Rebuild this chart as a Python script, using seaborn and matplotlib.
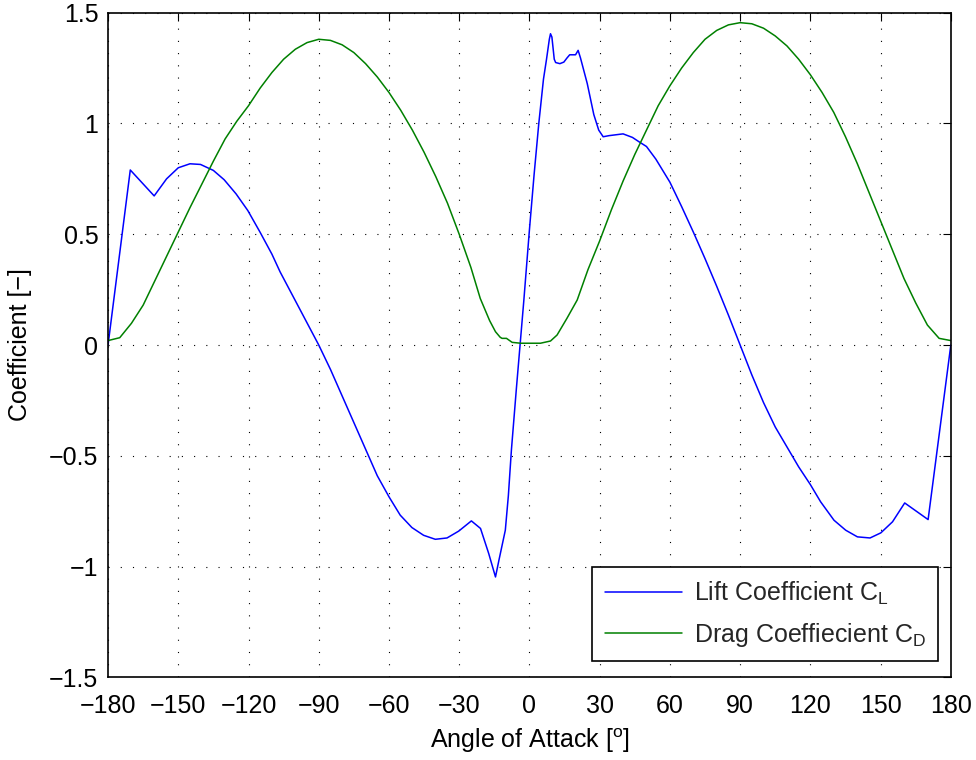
import matplotlib
matplotlib.use("Agg")
import matplotlib.pyplot as plt
import seaborn as sns
import pandas as pd

# Lift coefficient vs angle of attack (degrees)
lift_aoa = [-180, -170.5, -160.3, -155, -150, -145, -140.5, -135, -130.4, -125.3,
            -120.3, -115, -110, -106.5, -100, -95, -90, -85, -80, -75, -70,
            -65, -60, -55.2, -50.2, -45.2, -40.2, -35.2, -30.2, -24.8, -20.9,
            -17.4, -14.5, -13, -10.3, -9, -7.7, -5.6, -4, -2.4, 0, 2, 4, 6,
            7.3, 8.5, 9, 9.6, 10.6, 11.2, 13, 14.7, 16, 17.2, 19.7, 20.8, 21.8,
            24.7, 27.5, 29.6, 31.5, 34, 40, 44, 47, 50, 54, 60, 65, 70, 75, 80,
            85, 90, 95, 100, 105, 110, 115, 120, 124.4, 130.1, 135.1, 140.1,
            145.5, 150.1, 155.1, 160.3, 170.3, 180]
lift_cl = [0.0, 0.79, 0.673, 0.75, 0.80, 0.818, 0.815, 0.788, 0.746, 0.682,
           0.607, 0.508, 0.41, 0.33, 0.20, 0.10, 0.0, -0.11, -0.23, -0.35, -0.47,
           -0.59, -0.685, -0.768, -0.824, -0.859, -0.877, -0.871, -0.84, -0.794, -0.828,
           -0.941, -1.047, -0.97, -0.836, -0.68, -0.474, -0.2, 0.0, 0.2, 0.52, 0.77, 1.0, 1.2,
           1.29, 1.38, 1.405, 1.39, 1.29, 1.275, 1.27, 1.277, 1.295, 1.31, 1.31, 1.33, 1.296,
           1.18, 1.04, 0.97, 0.94, 0.945, 0.953, 0.937, 0.916, 0.896, 0.839, 0.735, 0.625, 0.51, 0.39, 0.265,
           0.135, 0.0, -0.135, -0.26, -0.37, -0.46, -0.55, -0.63, -0.708, -0.791, -0.836, -0.866,
           -0.871, -0.848, -0.798, -0.713, -0.788, 0.0]

# Drag coefficient vs angle of attack (degrees)
drag_aoa = [-180, -175, -170, -165, -160, -155, -150, -145, -140, -135, -130, -125,
            -120, -115, -110, -105, -100, -95, -90, -85, -80, -75, -70, -65, -60,
            -55, -50, -45, -40, -35, -30, -25, -21, -17, -14.5, -12.5, -11.7, -9.8,
            -7.4, -3.8, 4.7, 9, 11.8, 16, 20.4, 25, 30, 35, 40, 45, 50, 55, 60, 65,
            70, 75, 80, 85, 90, 95, 100, 105, 110, 115, 120, 125, 130, 135, 140, 145,
            150, 155, 160, 165, 170, 175, 180]
drag_cd = [0.02, 0.033, 0.098, 0.18, 0.29, 0.40, 0.51, 0.62, 0.725, 0.83, 0.93, 1.01,
           1.08, 1.16, 1.23, 1.29, 1.335, 1.365, 1.38, 1.375, 1.355, 1.32, 1.27, 1.21, 1.14,
           1.06, 0.97, 0.87, 0.76, 0.64, 0.50, 0.35, 0.21, 0.11, 0.06, 0.035, 0.03, 0.03,
           0.012, 0.008, 0.008, 0.018, 0.045, 0.12, 0.203, 0.34, 0.47, 0.61, 0.74, 0.86, 0.97, 1.08, 1.17, 1.25,
           1.32, 1.38, 1.42, 1.445, 1.455, 1.45, 1.43, 1.395, 1.35, 1.29, 1.22, 1.14, 1.05, 0.94, 0.82, 0.69,
           0.56, 0.43, 0.30, 0.19, 0.09, 0.03, 0.02]

x_ticks = [-180, -150, -120, -90, -60, -30, 0, 30, 60, 90, 120, 150, 180]
y_ticks = [-1.5, -1, -0.5, 0, 0.5, 1, 1.5]

FS = 18

sns.set_theme(style="white")
plt.rcParams["font.family"] = ["Liberation Sans", "DejaVu Sans"]
plt.rcParams["mathtext.fontset"] = "custom"
plt.rcParams["mathtext.rm"] = "Liberation Sans"
plt.rcParams["mathtext.it"] = "Liberation Sans"
plt.rcParams["axes.unicode_minus"] = True

fig = plt.figure(figsize=(9.76, 7.6), dpi=100)
ax = fig.add_axes([0.1107, 0.1088, 0.8635, 0.8745])

lift_df = pd.DataFrame({"aoa": lift_aoa, "coef": lift_cl})
drag_df = pd.DataFrame({"aoa": drag_aoa, "coef": drag_cd})

sns.lineplot(data=lift_df, x="aoa", y="coef", ax=ax, color=(0, 0, 1), lw=1.1,
             estimator=None, sort=False, label=r"Lift Coefficient C$_\mathrm{L}$")
sns.lineplot(data=drag_df, x="aoa", y="coef", ax=ax, color=(0, 0.5, 0), lw=1.1,
             estimator=None, sort=False, label=r"Drag Coeffiecient C$_\mathrm{D}$")

ax.set_xlim(-180, 180)
ax.set_ylim(-1.5, 1.5)
ax.set_xticks(x_ticks)
ax.set_yticks(y_ticks)
ax.set_xticklabels([str(v).replace("-", "\u2212") for v in x_ticks])
ax.set_yticklabels([("%g" % v).replace("-", "\u2212") for v in y_ticks])

ax.grid(True, color="black", linestyle=(0, (1, 10)), linewidth=0.8)
ax.tick_params(direction="in", length=6, width=0.8, top=True, right=True,
               labelsize=FS, colors="black")
ax.tick_params(axis="x", pad=12)
ax.tick_params(axis="y", pad=7)
for s in ax.spines.values():
    s.set_color("black")
    s.set_linewidth(1.2)

ax.set_xlabel(r"Angle of Attack [$^\mathrm{o}$]", fontsize=FS, color="black", labelpad=6)
ax.set_ylabel("Coefficient [\u2212]", fontsize=FS, color="black", labelpad=12)

leg = ax.legend(loc="lower right", bbox_to_anchor=(0.985, 0.0245), borderaxespad=0,
                fancybox=False, framealpha=1, edgecolor="black", fontsize=FS,
                handlelength=3.1, handletextpad=0.45, labelspacing=0.55,
                borderpad=0.5)
leg.get_frame().set_linewidth(1.2)

fig.savefig("out.png", dpi=100)
